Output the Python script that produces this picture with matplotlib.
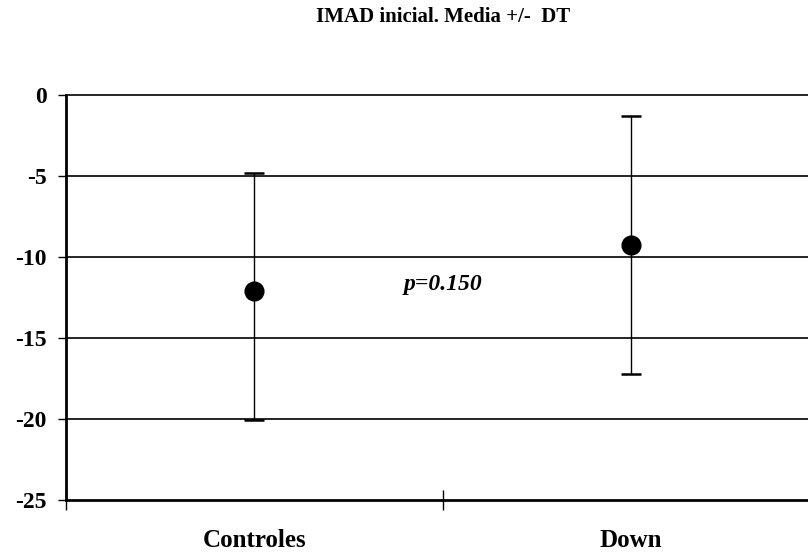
import numpy as np
import matplotlib.pyplot as plt

# group means and error-bar ends
groups = ["Controles", "Down"]
means = [-12.1, -9.26]
upper = [-4.83, -1.28]
lower = [-20.05, -17.24]
p_label = "p=0.150"
title = "IMAD inicial. Media +/-  DT"
yticks = [0, -5, -10, -15, -20, -25]

plt.rcParams["font.family"] = ["Liberation Serif", "DejaVu Serif"]

W, H = 808, 557
fig = plt.figure(figsize=(W / 100, H / 100), dpi=100)
# plot area runs a little past the right edge of the figure
left, right, top, bottom = 66, 819.5, 95, 500
ax = fig.add_axes([left / W, 1 - bottom / H, (right - left) / W, (bottom - top) / H])

x = np.arange(len(groups))
means = np.array(means)
yerr = np.array([means - np.array(lower), np.array(upper) - means])

ax.set_xlim(-0.5, len(groups) - 0.5)
ax.set_ylim(-25, 0)

for yv in yticks[:-1]:
    ax.axhline(yv, color="black", lw=1.2, zorder=1, clip_on=False)

ax.errorbar(x, means, yerr=yerr, fmt="o", color="black", ms=13.5,
            ecolor="black", elinewidth=1.0, capsize=7, capthick=1.8, zorder=3)

ax.text(0.5, -11.7, p_label, ha="center", va="center", fontsize=17,
        fontweight="bold", fontstyle="italic")

ax.spines["top"].set_visible(False)
ax.spines["right"].set_visible(False)
ax.spines["left"].set_linewidth(2)
ax.spines["bottom"].set_linewidth(2)

ax.set_yticks(yticks)
ax.set_yticklabels([str(v) for v in yticks], fontsize=17, fontweight="bold")
ax.tick_params(axis="y", direction="out", length=6, width=1, pad=8)

# category boundaries get crossing ticks, labels sit at the centres
ax.set_xticks([-0.5, 0.5, 1.5])
ax.set_xticklabels([])
ax.tick_params(axis="x", direction="inout", length=14, width=1)
ax.set_xticks(x, minor=True)
ax.set_xticklabels(groups, minor=True, fontsize=18, fontweight="bold")
ax.tick_params(axis="x", which="minor", length=0, pad=21)

fig.text((left + right) / 2 / W, 1 - 17 / H, title, ha="center", va="center",
         fontsize=15, fontweight="bold")

fig.savefig("out.png", dpi=100)
